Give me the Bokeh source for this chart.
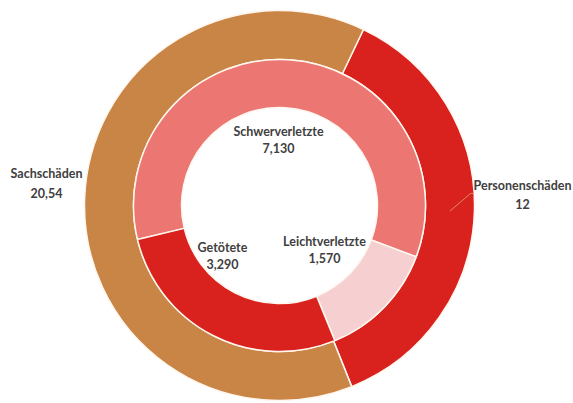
import numpy as np
from bokeh.plotting import figure
from bokeh.models import ColumnDataSource, Range1d
from bokeh.embed import file_html
from bokeh.resources import INLINE
from bokeh.core.properties import value

# ---- data ----
outer_categories = ["Personenschäden", "Sachschäden"]
outer_values = [12, 20.54]
outer_labels = ["12", "20,54"]

inner_categories = ["Schwerverletzte", "Leichtverletzte", "Getötete"]
inner_values = [7.13, 1.57, 3.29]
inner_labels = ["7,130", "1,570", "3,290"]

# ---- style ----
outer_colors = ["#D9221E", "#C98545"]
inner_colors = ["#EC7672", "#F6D0D0", "#D9221E"]
W, H = 573, 403
CX, CY = 279, 205            # centre of the rings in page pixels
R_HOLE, R_MID, R_OUT = 98, 146, 195
OUTER_START = 25.5           # degrees clockwise from 12 o'clock
INNER_START = 256.5
TEXT_COLOR = "#404040"
FONT = "Lato"
FONT_SIZE = "12.5px"

# label name-line centres relative to the ring centre (pixels, y down), value line offset
outer_label_pos = [(243, -20, 18), (-233, -32, 19)]
inner_label_pos = [(-1, -74, 16), (45, 36, 16), (-57, 42, 16)]


def wedges(values, start_deg):
    v = np.asarray(values, dtype=float)
    frac = v / v.sum() * 360.0
    cum = np.concatenate([[0.0], np.cumsum(frac)])
    t0 = start_deg + cum[:-1]
    t1 = start_deg + cum[1:]
    # convert clockwise-from-top to bokeh math angles
    return np.radians(90 - t0), np.radians(90 - t1), np.radians(90 - (t0 + t1) / 2)


p = figure(width=W, height=H, x_range=Range1d(-CX, W - CX), y_range=Range1d(-(H - CY), CY),
           output_backend="svg", toolbar_location=None, min_border=0)
p.axis.visible = False
p.grid.visible = False
p.outline_line_color = None
p.background_fill_color = "white"
p.border_fill_color = "white"

os_, oe, om = wedges(outer_values, OUTER_START)
src_o = ColumnDataSource(dict(cat=outer_categories, start=os_, end=oe, color=outer_colors))
p.annular_wedge(x=0, y=0, inner_radius=R_MID, outer_radius=R_OUT, start_angle="start",
                end_angle="end", direction="clock", fill_color="color",
                line_color="#FFF6EE", line_width=1.5, source=src_o)

is_, ie, im = wedges(inner_values, INNER_START)
src_i = ColumnDataSource(dict(cat=inner_categories, start=is_, end=ie, color=inner_colors))
p.annular_wedge(x=0, y=0, inner_radius=R_HOLE, outer_radius=R_MID, start_angle="start",
                end_angle="end", direction="clock", fill_color="color",
                line_color="#FFF6EE", line_width=1.5, source=src_i)

# leader line for Personenschäden: from the segment middle to the label
r_lead = (R_MID + R_OUT) / 2
lx0, ly0 = r_lead * np.cos(om[0]), r_lead * np.sin(om[0])
lab_x, lab_y = outer_label_pos[0][0], -outer_label_pos[0][1]
p.line([lx0, lab_x - 52, lab_x - 49], [ly0, lab_y - 8, lab_y - 8],
       line_color="#D98A6A", line_width=1)

names, vals, xs, ys, offs = [], [], [], [], []
for cats, labs, pos in [(outer_categories, outer_labels, outer_label_pos),
                        (inner_categories, inner_labels, inner_label_pos)]:
    for c, l, (dx, dy, off) in zip(cats, labs, pos):
        names.append(c)
        vals.append(l)
        xs.append(dx)
        ys.append(-dy)
        offs.append(-dy - off)

p.text(x=xs, y=ys, text=names, text_align="center", text_baseline="middle",
       text_font=value(FONT), text_font_style="bold", text_font_size=FONT_SIZE,
       text_color=TEXT_COLOR)
p.text(x=xs, y=offs, text=vals, text_align="center", text_baseline="middle",
       text_font=value(FONT), text_font_style="bold", text_font_size=FONT_SIZE,
       text_color=TEXT_COLOR)

open("out.html", "w").write(file_html(p, INLINE))
